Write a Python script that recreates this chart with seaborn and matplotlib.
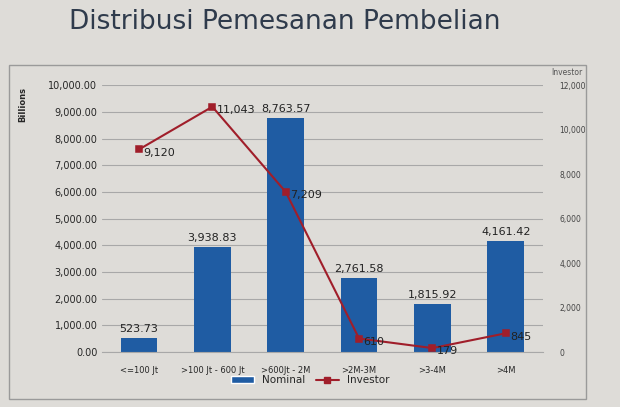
import seaborn as sns
import matplotlib.pyplot as plt
from matplotlib.patches import Patch, Rectangle
from matplotlib.lines import Line2D

categories = ["<=100 Jt", ">100 Jt - 600 Jt", ">600Jt - 2M", ">2M-3M", ">3-4M", ">4M"]
nominal = [523.73, 3938.83, 8763.57, 2761.58, 1815.92, 4161.42]
investor = [9120, 11043, 7209, 610, 179, 845]

barColor = "#1f5ca3"
lineColor = "#a01e2a"
bg = "#dedcd8"

sns.set_style("white")
fig = plt.figure(figsize=(6.2, 4.07), dpi=100, facecolor=bg)

# slide frame round the chart
fig.patches.append(Rectangle((0.015, 0.02), 0.93, 0.82, transform=fig.transFigure,
                             fill=False, edgecolor="#9a9a9a", linewidth=1.0))
fig.text(0.46, 0.945, "Distribusi Pemesanan Pembelian", ha="center", va="center",
         fontsize=19, color="#2f3b4c", family="DejaVu Sans")

ax = fig.add_axes([0.165, 0.135, 0.71, 0.655])
ax.set_facecolor(bg)
sns.barplot(x=categories, y=nominal, color=barColor, width=0.5, saturation=1,
            linewidth=0, ax=ax, zorder=2)
ax.set_ylim(0, 10000)
ax.set_yticks(range(0, 10001, 1000))
ax.set_yticklabels([f"{v:,.2f}" for v in range(0, 10001, 1000)], fontsize=7)
ax.yaxis.grid(True, color="#a8a8a8", linewidth=0.8)
ax.set_axisbelow(True)
ax.set_xlabel("")
ax.set_ylabel("Billions", fontsize=6, fontweight="bold")
ax.yaxis.set_label_coords(-0.17, 0.93)
ax.tick_params(axis="x", labelsize=6, length=0, pad=10)
ax.tick_params(axis="y", length=0)
for s in ["top", "right", "left"]:
    ax.spines[s].set_visible(False)
ax.spines["bottom"].set_color("#a8a8a8")
for i, v in enumerate(nominal):
    ax.text(i, v + 150, f"{v:,.2f}", ha="center", va="bottom", fontsize=8, color="#222222")

ax2 = ax.twinx()
sns.pointplot(x=categories, y=investor, color=lineColor, markers="s", markersize=5,
              linewidth=1.5, ax=ax2)
ax2.set_ylim(0, 12000)
ax2.set_yticks(range(0, 12001, 2000))
ax2.set_yticklabels([f"{v:,}" for v in range(0, 12001, 2000)], fontsize=5.5, color="#444444")
ax2.tick_params(axis="y", length=0, pad=12)
ax2.set_ylabel("")
ax2.text(1.02, 1.04, "Investor", transform=ax2.transAxes, fontsize=5.5, color="#555555")
for s in ["top", "right", "left", "bottom"]:
    ax2.spines[s].set_visible(False)
for i, v in enumerate(investor):
    ax2.text(i + 0.06, v - 150, f"{v:,}", ha="left", va="center", fontsize=8, color="#222222")

handles = [Patch(facecolor=barColor, label="Nominal"),
           Line2D([], [], color=lineColor, marker="s", markersize=4, label="Investor")]
fig.legend(handles=handles, loc="lower center", bbox_to_anchor=(0.5, 0.03), ncol=2,
           frameon=False, fontsize=7.5, handlelength=2.2, columnspacing=1.0)

plt.savefig("out.png", dpi=100, facecolor=bg)
